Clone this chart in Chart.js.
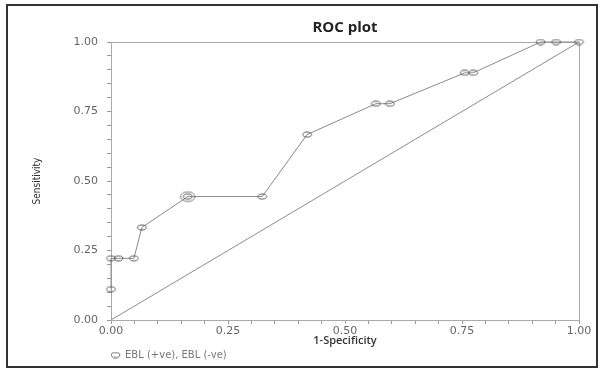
<!DOCTYPE html>
<html>
<head>
<meta charset="utf-8">
<script src="https://cdn.jsdelivr.net/npm/chart.js@4/dist/chart.umd.min.js"></script>
<style>
  html, body { margin: 0; padding: 0; background: #ffffff; }
  #wrap { width: 600px; height: 370px; position: relative; }
</style>
</head>
<body>
<div id="wrap"><canvas id="c" width="600" height="370"></canvas></div>
<script>
// ---- data ----
const rocX = [0, 0, 0.016, 0.049, 0.066, 0.164, 0.323, 0.419, 0.566, 0.596, 0.756, 0.774, 0.918, 0.951, 1.0];
const rocY = [0.111, 0.222, 0.222, 0.222, 0.333, 0.444, 0.444, 0.667, 0.778, 0.778, 0.889, 0.889, 1.0, 1.0, 1.0];
const tiedX = [0.164];
const tiedY = [0.444];
const refX = [0, 1];
const refY = [0, 1];
const majorTicks = [0, 0.25, 0.5, 0.75, 1.0];
const seriesLabel = 'EBL (+ve), EBL (-ve)';
const titleText = 'ROC plot';
const xTitle = '1-Specificity';
const yTitle = 'Sensitivity';

function ellipseImg(w, h, rx, ry, color) {
  const cv = document.createElement('canvas');
  cv.width = w; cv.height = h;
  const g = cv.getContext('2d');
  g.strokeStyle = color;
  g.lineWidth = 1;
  g.beginPath();
  g.ellipse(w / 2, h / 2, rx, ry, 0, 0, Math.PI * 2);
  g.stroke();
  return cv;
}
const smallPt = ellipseImg(11, 7, 4.3, 2.5, '#555');
const bigPt = ellipseImg(17, 12, 7.3, 4.8, '#777');

const toPts = (xs, ys) => xs.map((x, i) => ({ x: x, y: ys[i] }));

function tickLabel(v) {
  return majorTicks.some(m => Math.abs(m - v) < 1e-6) ? Number(v).toFixed(2) : '';
}

const frame = {
  id: 'frame',
  beforeDraw(chart) {
    const c = chart.ctx;
    c.save();
    c.fillStyle = '#ffffff';
    c.fillRect(0, 0, chart.width, chart.height);
    c.restore();
  },
  beforeDatasetsDraw(chart) {
    const a = chart.chartArea;
    const c = chart.ctx;
    c.save();
    c.strokeStyle = '#aaaaaa';
    c.lineWidth = 1;
    c.strokeRect(Math.round(a.left) + 0.5, Math.round(a.top) + 0.5, Math.round(a.right - a.left), Math.round(a.bottom - a.top));
    c.restore();
  },
  afterDraw(chart) {
    const c = chart.ctx;
    c.save();
    c.strokeStyle = '#333333';
    c.lineWidth = 2;
    c.strokeRect(7, 5, 590, 362);
    c.restore();
  }
};

new Chart(document.getElementById('c'), {
  type: 'scatter',
  data: {
    datasets: [
      {
        label: seriesLabel,
        data: toPts(rocX, rocY),
        showLine: true,
        clip: false,
        borderColor: '#8a8a8a',
        borderWidth: 1,
        pointStyle: smallPt,
        pointRadius: 4,
        pointHoverRadius: 4,
        order: 1
      },
      {
        label: 'tied',
        data: toPts(tiedX, tiedY),
        showLine: false,
        clip: false,
        pointStyle: bigPt,
        pointRadius: 7,
        order: 0
      },
      {
        label: 'reference',
        data: toPts(refX, refY),
        showLine: true,
        borderColor: '#8c8c8c',
        borderWidth: 1,
        pointRadius: 0,
        order: 2
      }
    ]
  },
  options: {
    responsive: false,
    animation: false,
    events: [],
    layout: { padding: { top: 8, right: 21, bottom: 0, left: 0 } },
    plugins: {
      title: {
        display: true,
        text: titleText,
        fullSize: false,
        color: '#222',
        font: { family: 'Open Sans', size: 15, weight: 'bold' },
        padding: { top: 11, bottom: 5 }
      },
      legend: {
        display: true,
        position: 'bottom',
        align: 'start',
        fullSize: false,
        labels: {
          usePointStyle: true,
          boxWidth: 9,
          boxHeight: 7,
          padding: 0,
          color: '#777',
          font: { family: 'DejaVu Sans', size: 10 },
          filter: item => item.datasetIndex === 0
        }
      },
      tooltip: { enabled: false }
    },
    scales: {
      x: {
        type: 'linear',
        min: 0, max: 1,
        afterFit(s) { s.height = 30; },
        ticks: {
          stepSize: 0.05,
          autoSkip: false,
          maxRotation: 0,
          padding: 1,
          color: '#666',
          font: { family: 'DejaVu Sans', size: 11 },
          callback: tickLabel
        },
        grid: { display: true, drawOnChartArea: false, drawTicks: true, tickLength: 4, color: '#999' },
        border: { display: true, color: '#aaa' },
        title: {
          display: true,
          text: xTitle,
          color: '#333',
          font: { family: 'Open Sans', size: 11, weight: '600' },
          padding: { top: 0, bottom: 3 }
        }
      },
      y: {
        type: 'linear',
        min: 0, max: 1,
        afterFit(s) { s.width = 111; },
        ticks: {
          stepSize: 0.05,
          autoSkip: false,
          padding: 9,
          color: '#666',
          font: { family: 'DejaVu Sans', size: 11 },
          callback: tickLabel
        },
        grid: { display: true, drawOnChartArea: false, drawTicks: true, tickLength: 4, color: '#999' },
        border: { display: true, color: '#aaa' },
        title: {
          display: true,
          text: yTitle,
          color: '#333',
          font: { family: "'DejaVu Sans Condensed', 'Liberation Sans Narrow', 'Roboto', sans-serif", size: 10 },
          padding: { top: 31, bottom: 0 }
        }
      }
    }
  },
  plugins: [frame]
});
</script>
</body>
</html>
